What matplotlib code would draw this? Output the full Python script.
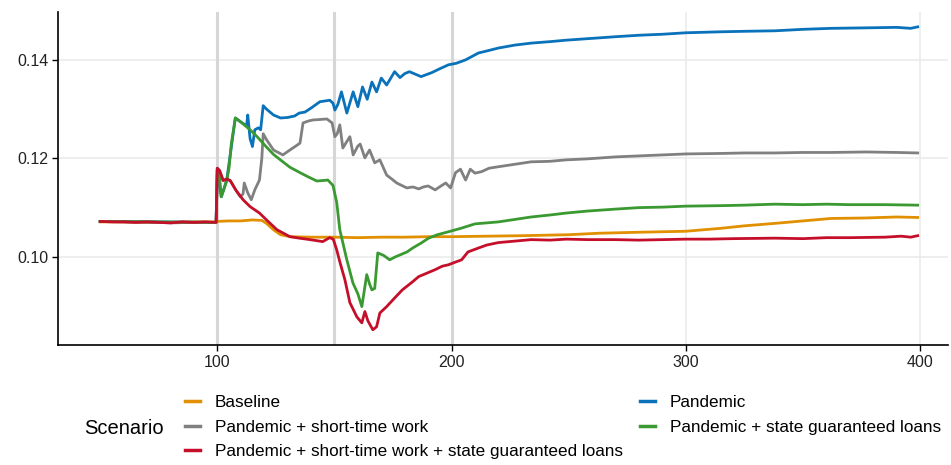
import matplotlib
matplotlib.use("Agg")
import matplotlib.pyplot as plt
from matplotlib.lines import Line2D

plt.rcParams["font.family"] = ["Liberation Sans", "DejaVu Sans"]

# --- data ------------------------------------------------------------------
base_x = [50, 60, 70, 80, 90, 99.5, 100, 105, 110, 115, 119, 121, 124, 127, 131, 140, 150, 160,
          170, 180, 190, 200, 215, 230, 250, 263, 280, 300, 315, 325, 338, 350, 362, 377, 390, 399]
base_y = [0.1071, 0.1071, 0.1070, 0.1070, 0.1071, 0.1071, 0.1072, 0.1073, 0.1073, 0.1075, 0.1074,
          0.1068, 0.1055, 0.1045, 0.1041, 0.1040, 0.1040, 0.1039, 0.1040, 0.1040, 0.1041, 0.1041,
          0.1042, 0.1043, 0.1045, 0.1048, 0.1050, 0.1052, 0.1058, 0.1063, 0.1068, 0.1073, 0.1078,
          0.1079, 0.1081, 0.1080]

pan_x = [50, 99.5, 100, 101.7, 104, 107.7, 110, 112.5, 113, 114, 115, 116, 117.5, 118.5, 119.6, 121,
         124, 127, 130, 133, 135, 137.4, 140, 143.8, 148, 149.4, 150.2, 151.5, 153, 155.3, 158, 160,
         162, 164, 166, 168, 170, 172.3, 175.7, 178, 180, 182, 184, 187, 191.5, 195, 198.7, 202, 206,
         211.5, 215, 220, 227, 234, 242, 249, 258, 270, 280, 290, 300, 315, 325, 338, 350, 362, 377,
         390, 396, 399]
pan_y = [0.1072, 0.1070, 0.1178, 0.1122, 0.1155, 0.1282, 0.1274, 0.1266, 0.1288, 0.1240, 0.1224,
         0.1258, 0.1262, 0.1258, 0.1307, 0.1300, 0.1288, 0.1282, 0.1283, 0.1286, 0.1292, 0.1294,
         0.1302, 0.1315, 0.1318, 0.1312, 0.1298, 0.1310, 0.1335, 0.1292, 0.1335, 0.1305, 0.1345,
         0.1320, 0.1355, 0.1335, 0.1363, 0.1349, 0.1376, 0.1364, 0.1372, 0.1376, 0.1372, 0.1366,
         0.1374, 0.1382, 0.1390, 0.1393, 0.1400, 0.1414, 0.1418, 0.1424, 0.1430, 0.1434, 0.1437,
         0.1440, 0.1443, 0.1447, 0.1450, 0.1452, 0.1455, 0.1457, 0.1458, 0.1459, 0.1462, 0.1464,
         0.1465, 0.1466, 0.1464, 0.1467]

stw_x = [50, 60, 70, 80, 90, 99.5, 100, 101, 102.5, 104, 105.5, 108, 109.8, 111, 111.5, 113, 114.5,
         116, 118, 119, 119.6, 121, 124, 128, 131, 133.5, 135.3, 136.6, 139, 140.9, 144, 146.8, 149,
         150.2, 151.2, 152.3, 153.6, 155, 156.6, 158, 160, 161, 163, 165, 167.2, 169.4, 172.3, 174.5,
         176.6, 180.9, 183.5, 186, 188, 190, 193, 195.5, 197.5, 199.6, 201.7, 203.8, 206, 208, 210,
         212.8, 216, 220, 227, 234, 242, 249, 258, 270, 280, 290, 300, 315, 325, 338, 350, 362, 377,
         390, 399]
stw_y = [0.1072, 0.1071, 0.1071, 0.1069, 0.1070, 0.1070, 0.1180, 0.1175, 0.1155, 0.1158, 0.1155,
         0.1135, 0.1122, 0.1128, 0.1150, 0.1130, 0.1116, 0.1136, 0.1156, 0.1200, 0.1250, 0.1238,
         0.1217, 0.1207, 0.1217, 0.1225, 0.1231, 0.1272, 0.1276, 0.1278, 0.1279, 0.1280, 0.1272,
         0.1244, 0.1250, 0.1268, 0.1221, 0.1232, 0.1244, 0.1207, 0.1225, 0.1229, 0.1201, 0.1217,
         0.1191, 0.1197, 0.1166, 0.1158, 0.1150, 0.1140, 0.1142, 0.1138, 0.1142, 0.1144, 0.1136,
         0.1144, 0.1150, 0.1140, 0.1171, 0.1178, 0.1156, 0.1178, 0.1170, 0.1173, 0.1180, 0.1183,
         0.1188, 0.1193, 0.1194, 0.1197, 0.1199, 0.1203, 0.1205, 0.1207, 0.1209, 0.1210, 0.1211,
         0.1211, 0.1212, 0.1212, 0.1213, 0.1212, 0.1211]

loans_x = [50, 99.5, 100, 100.8, 101.7, 103, 104, 105, 106, 107.7, 110, 114, 117, 121, 124, 128, 131,
           135.3, 139, 142.5, 145, 147.2, 149.4, 151, 152.3, 155.3, 157.9, 160, 161.7, 163.8, 165,
           166, 167.2, 168.5, 171, 173.6, 176, 178, 181, 183.4, 187, 190.2, 194, 198.7, 204, 210,
           220, 227, 234, 242, 249, 258, 270, 280, 290, 300, 315, 325, 338, 350, 360, 370, 385, 399]
loans_y = [0.1072, 0.1070, 0.1178, 0.1170, 0.1122, 0.1140, 0.1155, 0.1180, 0.1230, 0.1282, 0.1274,
           0.1258, 0.1244, 0.1223, 0.1208, 0.1193, 0.1182, 0.1171, 0.1162, 0.1154, 0.1155, 0.1156,
           0.1145, 0.1110, 0.1055, 0.0994, 0.0947, 0.0925, 0.0899, 0.0964, 0.0945, 0.0933, 0.0936,
           0.1008, 0.1003, 0.0994, 0.1000, 0.1004, 0.1010, 0.1018, 0.1028, 0.1038, 0.1045, 0.1051,
           0.1058, 0.1067, 0.1071, 0.1076, 0.1081, 0.1085, 0.1089, 0.1093, 0.1097, 0.1100, 0.1101,
           0.1103, 0.1104, 0.1105, 0.1107, 0.1106, 0.1107, 0.1106, 0.1106, 0.1105]

both_x = [50, 55, 60, 65, 70, 75, 80, 85, 90, 95, 99.5, 100, 101, 102.5, 104, 105.5, 108, 111, 114,
          118, 121, 125.5, 131, 135, 139.6, 145, 148, 149.5, 151, 152.3, 154.5, 156.6, 159.6, 161.7,
          163, 164.3, 166.4, 168, 169.4, 172.3, 176, 179, 183, 186, 190, 193, 196, 198.7, 202, 204.3,
          207, 211.5, 215, 220, 227, 234, 242, 249, 258, 270, 280, 290, 300, 310, 320, 338, 350, 360,
          370, 385, 392, 396, 399]
both_y = [0.1072, 0.1071, 0.1071, 0.1070, 0.1071, 0.1070, 0.1069, 0.1071, 0.1070, 0.1071, 0.1070,
          0.1180, 0.1175, 0.1155, 0.1158, 0.1155, 0.1135, 0.1116, 0.1102, 0.1089, 0.1075, 0.1055,
          0.1041, 0.1038, 0.1035, 0.1031, 0.1039, 0.1036, 0.1014, 0.0990, 0.0953, 0.0907, 0.0878,
          0.0866, 0.0889, 0.0870, 0.0852, 0.0858, 0.0886, 0.0899, 0.0918, 0.0933, 0.0948, 0.0960,
          0.0968, 0.0974, 0.0981, 0.0984, 0.0990, 0.0994, 0.1010, 0.1018, 0.1024, 0.1029, 0.1032,
          0.1035, 0.1034, 0.1036, 0.1035, 0.1035, 0.1034, 0.1035, 0.1036, 0.1036, 0.1037, 0.1038,
          0.1037, 0.1039, 0.1039, 0.1040, 0.1042, 0.1040, 0.1043]

event_x = [100, 150, 200]
x_ticks = [100, 200, 300, 400]
y_ticks = [0.10, 0.12, 0.14]

series = [
    ("Baseline", base_x, base_y, "#E09000"),
    ("Pandemic", pan_x, pan_y, "#0A72BA"),
    ("Pandemic + short-time work", stw_x, stw_y, "#808080"),
    ("Pandemic + state guaranteed loans", loans_x, loans_y, "#3A9A31"),
    ("Pandemic + short-time work + state guaranteed loans", both_x, both_y, "#C50F2A"),
]

fig = plt.figure(figsize=(9.51, 4.65), dpi=100)
ax = fig.add_axes([0.061, 0.258, 0.936, 0.716])

handles = {}
for name, xs, ys, col in series:
    ax.plot(xs, ys, color=col, linewidth=2.0, zorder=3, solid_joinstyle="round")
    handles[name] = Line2D([], [], color=col, linewidth=2.5)

for xv in event_x:
    ax.axvline(xv, color="#D6D6D6", linewidth=2.2, zorder=1)

ax.set_xlim(32, 412)
ax.set_ylim(0.0821, 0.1497)
ax.set_xticks(x_ticks)
ax.set_yticks(y_ticks)
ax.set_yticklabels([f"{v:.2f}" for v in y_ticks])
ax.grid(True, color="#EBEBEB", linewidth=1.2, zorder=0)
ax.set_axisbelow(True)

for s in ["top", "right"]:
    ax.spines[s].set_visible(False)
for s in ["left", "bottom"]:
    ax.spines[s].set_linewidth(1.2)
    ax.spines[s].set_color("black")
ax.tick_params(axis="both", direction="out", length=4, width=1, color="black",
               labelsize=11.5, labelcolor="#222222", pad=3)

order = ["Baseline", "Pandemic + short-time work",
         "Pandemic + short-time work + state guaranteed loans",
         "Pandemic", "Pandemic + state guaranteed loans"]
fig.legend([handles[k] for k in order], order, ncol=2, loc="center left",
           bbox_to_anchor=(185 / 951, 1 - 427 / 465), frameon=False, fontsize=12.3,
           handlelength=0.9, handletextpad=0.85, labelspacing=0.58, columnspacing=1.0,
           borderpad=0, borderaxespad=0)
fig.text(84 / 951, 1 - 428 / 465, "Scenario", fontsize=14.5, ha="left", va="center")

fig.savefig("out.png", dpi=100)
plt.close(fig)
